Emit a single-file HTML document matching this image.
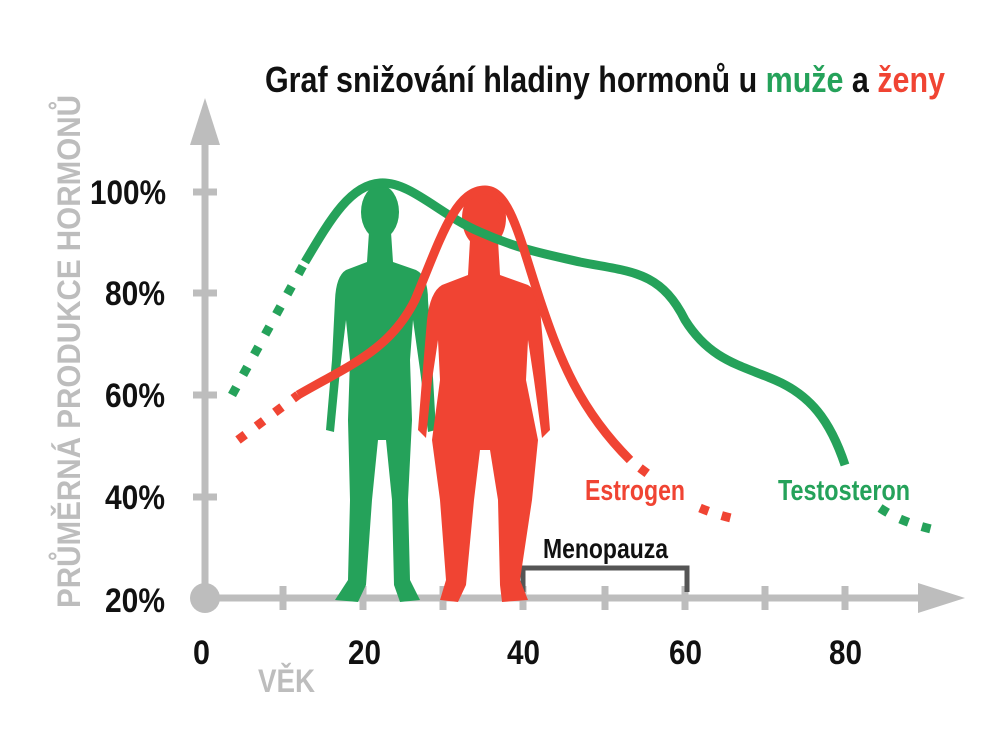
<!DOCTYPE html>
<html><head><meta charset="utf-8"><style>
html,body{margin:0;padding:0;background:#fff}
svg{display:block}
text{font-family:"Liberation Sans Narrow","Liberation Sans",sans-serif;font-weight:bold}
</style></head><body>
<svg width="1000" height="734" viewBox="0 0 1000 734" xmlns="http://www.w3.org/2000/svg">
<rect width="1000" height="734" fill="#fff"/>
<text x="265" y="92" font-size="36" textLength="680" lengthAdjust="spacingAndGlyphs" fill="#111">Graf snižování hladiny hormonů u <tspan fill="#25a25a">muže</tspan> a <tspan fill="#f04433">ženy</tspan></text>

<g stroke="#bdbdbd" stroke-width="7" fill="none">
<line x1="205" y1="130" x2="205" y2="598"/>
<line x1="205" y1="598" x2="935" y2="598"/>
<line x1="193" y1="192" x2="217" y2="192"/>
<line x1="193" y1="293" x2="217" y2="293"/>
<line x1="193" y1="395" x2="217" y2="395"/>
<line x1="193" y1="497" x2="217" y2="497"/>
<line x1="283" y1="586" x2="283" y2="610"/>
<line x1="363" y1="586" x2="363" y2="610"/>
<line x1="443" y1="586" x2="443" y2="610"/>
<line x1="523" y1="586" x2="523" y2="610"/>
<line x1="605" y1="586" x2="605" y2="610"/>
<line x1="685" y1="586" x2="685" y2="610"/>
<line x1="765" y1="586" x2="765" y2="610"/>
<line x1="845" y1="586" x2="845" y2="610"/>
</g>
<polygon points="205,98 190,145 220,145" fill="#bdbdbd"/>
<polygon points="965,598 918,583 918,613" fill="#bdbdbd"/>
<circle cx="205" cy="598" r="15" fill="#bdbdbd"/>

<g font-size="34" fill="#111">
<text x="90" y="204" textLength="76" lengthAdjust="spacingAndGlyphs">100%</text>
<text x="105" y="305" textLength="60" lengthAdjust="spacingAndGlyphs">80%</text>
<text x="105" y="407" textLength="60" lengthAdjust="spacingAndGlyphs">60%</text>
<text x="105" y="509" textLength="60" lengthAdjust="spacingAndGlyphs">40%</text>
<text x="105" y="612" textLength="60" lengthAdjust="spacingAndGlyphs">20%</text>
<text x="193" y="664" textLength="17" lengthAdjust="spacingAndGlyphs">0</text>
<text x="348" y="664" textLength="33" lengthAdjust="spacingAndGlyphs">20</text>
<text x="507" y="664" textLength="33" lengthAdjust="spacingAndGlyphs">40</text>
<text x="669" y="664" textLength="33" lengthAdjust="spacingAndGlyphs">60</text>
<text x="829" y="664" textLength="33" lengthAdjust="spacingAndGlyphs">80</text>
</g>
<text x="258" y="692" font-size="32" fill="#bdbdbd" textLength="57" lengthAdjust="spacingAndGlyphs">VĚK</text>
<text transform="translate(80,608) rotate(-90)" font-size="32" fill="#bdbdbd" textLength="513" lengthAdjust="spacingAndGlyphs">PRŮMĚRNÁ PRODUKCE HORMONŮ</text>

<polyline points="523,592 523,568 687,568 687,592" fill="none" stroke="#555" stroke-width="5"/>
<text x="543" y="558" font-size="28" fill="#111" textLength="125" lengthAdjust="spacingAndGlyphs">Menopauza</text>
<text x="585" y="500" font-size="29" fill="#f04433" textLength="100" lengthAdjust="spacingAndGlyphs">Estrogen</text>
<text x="778" y="500" font-size="29" fill="#25a25a" textLength="132" lengthAdjust="spacingAndGlyphs">Testosteron</text>

<g fill="#25a25a">
<ellipse cx="380" cy="212" rx="19" ry="27"/>
<path d="M369,232 L391,232 L393,262 L416,270 Q428,276 428,300 L432,360 L436,430 L428,432 L420,370 L413,320 L410,360 L412,420 L408,500 L410,580 L420,600 L400,602 L394,585 L392,500 L386,440 L378,440 L372,500 L366,585 L358,602 L335,600 L348,580 L350,500 L348,420 L350,360 L346,320 L340,370 L334,432 L326,430 L332,360 L335,300 Q336,276 346,270 L367,262 Z"/>
</g>
<g fill="#f04433">
<ellipse cx="484" cy="218" rx="22" ry="30"/>
<path d="M470,240 L498,240 L500,275 L528,285 Q540,292 541,320 L546,380 L550,430 L542,438 L534,380 L528,340 L526,380 L538,440 L532,500 L520,580 L528,600 L502,602 L500,585 L498,500 L490,450 L480,450 L474,500 L466,585 L458,602 L440,600 L446,580 L440,500 L432,440 L440,380 L438,340 L432,380 L426,438 L418,430 L422,380 L427,320 Q430,292 442,285 L468,275 Z"/>
</g>

<g fill="none" stroke-width="9">
<path d="M232,395 L305,262" stroke="#25a25a" stroke-dasharray="9,14"/>
<path d="M305,262 C330,220 350,185 380,183 C410,181 440,215 480,232 C520,250 550,255 580,262 C630,272 660,270 685,320 C710,360 740,365 775,380 C810,395 830,420 845,465" stroke="#25a25a"/>
<path d="M880,508 C895,518 910,524 935,530" stroke="#25a25a" stroke-dasharray="9,14"/>
<path d="M238,440 L298,395" stroke="#f04433" stroke-dasharray="9,14"/>
<path d="M298,395 C350,365 390,350 415,300 C440,240 455,190 485,190 C510,190 520,240 540,300 C560,360 580,410 630,460" stroke="#f04433"/>
<path d="M640,468 L648,474 M700,508 C712,513 725,517 740,520" stroke="#f04433" stroke-dasharray="9,14"/>
</g>
</svg>
</body></html>
